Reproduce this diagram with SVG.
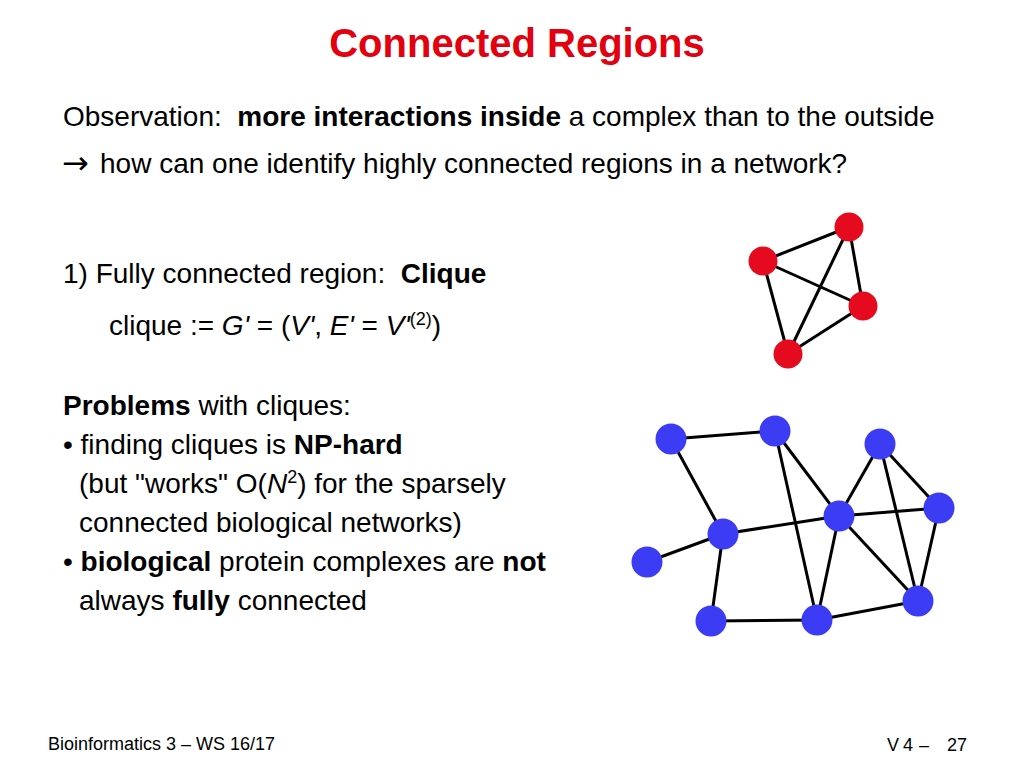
<svg xmlns="http://www.w3.org/2000/svg" width="1024" height="768" viewBox="0 0 1024 768">
<style>
text { font-family: "Liberation Sans", Arial, sans-serif; fill: #000; white-space: pre; }
.title { font-size: 40px; font-weight: bold; fill: #E3000F; }
.body { font-size: 28px; }
.foot { font-size: 18px; }
.b { font-weight: bold; }
.i { font-style: italic; }
.arr { font-family: "DejaVu Sans", sans-serif; font-size: 32px; }
.edge { stroke: #000; stroke-width: 3; fill: none; }
.red { fill: #E60A1E; }
.blue { fill: #3C3CF5; }
</style>
<rect width="1024" height="768" fill="#fff"/>
<text class="title" x="517" y="57" text-anchor="middle">Connected Regions</text>
<g class="body">
<text class="body" x="63" y="126" xml:space="preserve">Observation:  <tspan class="b">more interactions inside</tspan> a complex than to the outside</text>
<text class="body" x="62" y="174"><tspan class="arr">→</tspan><tspan x="100" y="173">how can one identify highly connected regions in a network?</tspan></text>
<text class="body" x="63" y="283" xml:space="preserve">1) Fully connected region:  <tspan class="b">Clique</tspan></text>
<text class="body" x="109" y="335">clique := <tspan class="i">G'</tspan> = (<tspan class="i">V'</tspan>, <tspan class="i">E'</tspan> = <tspan class="i">V'</tspan><tspan font-size="18" dy="-10">(2)</tspan><tspan dy="10">)</tspan></text>
<text class="body" x="63" y="415"><tspan class="b">Problems</tspan> with cliques:</text>
<text class="body" x="63" y="454">• finding cliques is <tspan class="b">NP-hard</tspan></text>
<text class="body" x="79" y="493">(but "works" O(<tspan class="i">N</tspan><tspan font-size="18" dy="-10">2</tspan><tspan dy="10">) for the sparsely</tspan></text>
<text class="body" x="79" y="532">connected biological networks)</text>
<text class="body" x="63" y="571">• <tspan class="b">biological</tspan> protein complexes are <tspan class="b">not</tspan></text>
<text class="body" x="79" y="610">always <tspan class="b">fully</tspan> connected</text>
</g>
<text class="foot" x="48" y="750">Bioinformatics 3 – WS 16/17</text>
<text class="foot" x="887 899 903" y="751">V 4</text>
<text class="foot" x="919" y="751">–</text>
<text class="foot" x="947" y="751">27</text>
<g id="connectors">
<line class="edge" x1="763" y1="261" x2="849" y2="227"/>
<line class="edge" x1="763" y1="261" x2="863" y2="306"/>
<line class="edge" x1="763" y1="261" x2="788" y2="354"/>
<line class="edge" x1="849" y1="227" x2="863" y2="306"/>
<line class="edge" x1="849" y1="227" x2="788" y2="354"/>
<line class="edge" x1="863" y1="306" x2="788" y2="354"/>
<line class="edge" x1="671" y1="439" x2="775" y2="431"/>
<line class="edge" x1="671" y1="439" x2="723" y2="534"/>
<line class="edge" x1="723" y1="534" x2="647" y2="562"/>
<line class="edge" x1="723" y1="534" x2="711" y2="621"/>
<line class="edge" x1="723" y1="534" x2="839" y2="516"/>
<line class="edge" x1="711" y1="621" x2="817" y2="620"/>
<line class="edge" x1="775" y1="431" x2="817" y2="620"/>
<line class="edge" x1="775" y1="431" x2="839" y2="516"/>
<line class="edge" x1="839" y1="516" x2="880" y2="444"/>
<line class="edge" x1="839" y1="516" x2="939" y2="508"/>
<line class="edge" x1="839" y1="516" x2="817" y2="620"/>
<line class="edge" x1="839" y1="516" x2="918" y2="601"/>
<line class="edge" x1="880" y1="444" x2="939" y2="508"/>
<line class="edge" x1="880" y1="444" x2="918" y2="601"/>
<line class="edge" x1="939" y1="508" x2="918" y2="601"/>
<line class="edge" x1="817" y1="620" x2="918" y2="601"/>
</g>
<g id="r1"><circle class="red" cx="763" cy="261" r="14.5"/></g>
<g id="r2"><circle class="red" cx="849" cy="227" r="14.5"/></g>
<g id="r3"><circle class="red" cx="863" cy="306" r="14.5"/></g>
<g id="r4"><circle class="red" cx="788" cy="354" r="14.5"/></g>
<g id="b1"><circle class="blue" cx="671" cy="439" r="15.5"/></g>
<g id="b2"><circle class="blue" cx="775" cy="431" r="15.5"/></g>
<g id="b3"><circle class="blue" cx="880" cy="444" r="15.5"/></g>
<g id="b4"><circle class="blue" cx="939" cy="508" r="15.5"/></g>
<g id="b5"><circle class="blue" cx="839" cy="516" r="15.5"/></g>
<g id="b6"><circle class="blue" cx="723" cy="534" r="15.5"/></g>
<g id="b7"><circle class="blue" cx="647" cy="562" r="15.5"/></g>
<g id="b8"><circle class="blue" cx="711" cy="621" r="15.5"/></g>
<g id="b9"><circle class="blue" cx="817" cy="620" r="15.5"/></g>
<g id="b10"><circle class="blue" cx="918" cy="601" r="15.5"/></g>
</svg>
